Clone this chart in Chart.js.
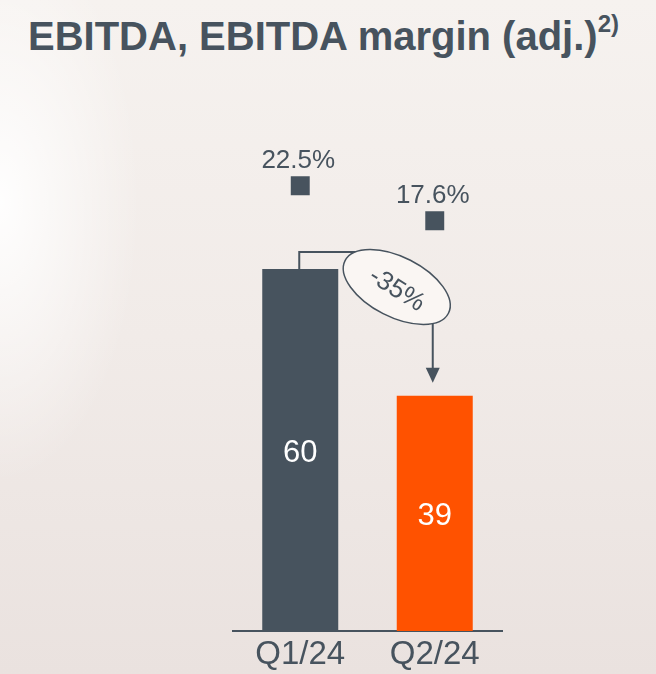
<!DOCTYPE html>
<html>
<head>
<title>EBITDA, EBITDA margin</title>
<script src="https://cdn.jsdelivr.net/npm/chart.js@4.4.1/dist/chart.umd.min.js"></script>
<style>
  body {
    margin: 0;
    width: 656px;
    height: 674px;
    overflow: hidden;
    position: relative;
    font-family: "Liberation Sans", Arial, sans-serif;
    background:
      radial-gradient(ellipse 140px 280px at 0% 30%, rgba(255,255,255,0.95), rgba(255,255,255,0) 100%),
      linear-gradient(#f6f2ef, #f1ebe8 50%, #eae2df);
  }
  #title {
    position: absolute;
    left: 28px;
    top: 8px;
    margin: 0;
    font-size: 40px;
    line-height: 40px;
    font-weight: bold;
    color: #47535e;
    white-space: nowrap;
  }
  #title sup {
    font-size: 24px;
    position: relative;
    top: -4px;
  }
  #wrap {
    position: absolute;
    left: 0;
    top: 0;
    width: 656px;
    height: 674px;
  }
</style>
</head>
<body>
<h1 id="title">EBITDA, EBITDA margin (adj.)<sup>2)</sup></h1>
<div id="wrap">
  <canvas id="chart1"></canvas>
</div>

<script>
// data
var quarters = ['Q1/24', 'Q2/24'];
var ebitda = [60, 39];          // EUR m, bars
var margin = [22.5, 17.6];      // %, squares
var changeLabel = '-35%';

var slate = '#47535e';
var orange = '#ff5200';
var font = '"Liberation Sans", Arial, sans-serif';

// labels, bracket and the change bubble
var annotate = {
  id: 'annotate',
  afterDatasetsDraw: function(chart) {
    var ctx = chart.ctx;
    var bars = chart.getDatasetMeta(0).data;
    var pts = chart.getDatasetMeta(1).data;
    ctx.save();
    ctx.textAlign = 'center';
    ctx.textBaseline = 'middle';

    // values inside bars
    ctx.fillStyle = '#ffffff';
    ctx.font = '31px ' + font;
    bars.forEach(function(b, i) {
      ctx.fillText(ebitda[i], b.x, (b.y + b.base) / 2 + 3);
    });

    // margin labels above squares
    ctx.fillStyle = slate;
    ctx.font = '26px ' + font;
    pts.forEach(function(p, i) {
      ctx.fillText(margin[i].toFixed(1) + '%', p.x - 2, p.y - 25);
    });

    // bracket from bar 1 to bar 2
    var b0 = bars[0], b1 = bars[1];
    var yLine = b0.y - 17;
    var cx = b1.x - 38, cy = yLine + 35;
    ctx.strokeStyle = slate;
    ctx.lineWidth = 2;
    ctx.beginPath();
    ctx.moveTo(b0.x - 1, b0.y);
    ctx.lineTo(b0.x - 1, yLine);
    ctx.lineTo(cx - 40, yLine);
    ctx.stroke();

    var ax = b1.x - 2, tip = b1.y - 13;
    ctx.beginPath();
    ctx.moveTo(ax, cy);
    ctx.lineTo(ax, tip - 12);
    ctx.stroke();
    ctx.fillStyle = slate;
    ctx.beginPath();
    ctx.moveTo(ax - 7, tip - 15);
    ctx.lineTo(ax + 7, tip - 15);
    ctx.lineTo(ax, tip);
    ctx.closePath();
    ctx.fill();

    // bubble
    ctx.beginPath();
    ctx.ellipse(cx, cy, 58, 30, 27 * Math.PI / 180, 0, Math.PI * 2);
    ctx.fillStyle = '#faf6f3';
    ctx.fill();
    ctx.lineWidth = 1.5;
    ctx.stroke();

    ctx.translate(cx, cy + 3);
    ctx.rotate(32 * Math.PI / 180);
    ctx.fillStyle = slate;
    ctx.font = '26px ' + font;
    ctx.fillText(changeLabel, 0, 0);
    ctx.restore();
  }
};

var ctx = document.getElementById('chart1').getContext('2d');
var chart = new Chart(ctx, {
  type: 'bar',
  data: {
    labels: quarters,
    datasets: [
      {
        type: 'bar',
        data: ebitda,
        yAxisID: 'y',
        backgroundColor: [slate, orange],
        borderWidth: 0,
        categoryPercentage: 1,
        barPercentage: 0.565,
        order: 2
      },
      {
        type: 'line',
        data: margin,
        yAxisID: 'y2',
        showLine: false,
        pointStyle: 'rect',
        pointRadius: 13.4,
        pointBackgroundColor: slate,
        pointBorderWidth: 0,
        order: 1
      }
    ]
  },
  options: {
    responsive: true,
    maintainAspectRatio: false,
    animation: false,
    layout: { padding: { left: 233, right: 154, top: 100, bottom: -5 } },
    plugins: {
      legend: { display: false },
      tooltip: { enabled: false }
    },
    scales: {
      x: {
        grid: { display: false, drawTicks: false },
        border: { display: true, color: slate, width: 2 },
        ticks: { color: slate, font: { family: font, size: 33, lineHeight: 0.91 }, padding: 9 }
      },
      y: { display: false, min: 0, max: 88 },
      y2: { display: false, min: -39.8, max: 34.5 }
    }
  },
  plugins: [annotate]
});
</script>
</body>
</html>
